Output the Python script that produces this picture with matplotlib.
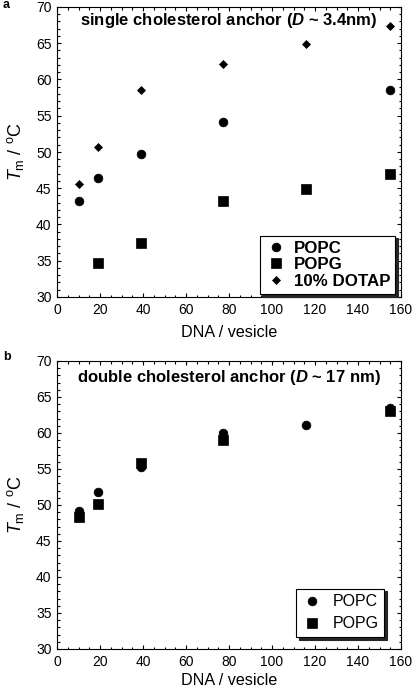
import matplotlib
matplotlib.use("Agg")
import matplotlib.pyplot as plt
from matplotlib.ticker import MultipleLocator

plt.rcParams['font.family'] = ['Liberation Sans', 'DejaVu Sans']
plt.rcParams['mathtext.fontset'] = 'custom'
plt.rcParams['mathtext.it'] = 'Liberation Sans:italic'
plt.rcParams['mathtext.rm'] = 'Liberation Sans'
plt.rcParams['mathtext.bf'] = 'Liberation Sans:bold'
plt.rcParams['mathtext.bfit'] = 'Liberation Sans:bold:italic'

# Panel a
a_popc_x = [10, 19, 39, 77, 155]
a_popc_y = [43.3, 46.4, 49.7, 54.1, 58.6]
a_popg_x = [19, 39, 77, 116, 155]
a_popg_y = [34.7, 37.4, 43.2, 44.9, 46.9]
a_dotap_x = [10, 19, 39, 77, 116, 155]
a_dotap_y = [45.6, 50.7, 58.5, 62.1, 64.9, 67.4]

# Panel b
b_popc_x = [10, 19, 39, 77, 116, 155]
b_popc_y = [49.2, 51.8, 55.3, 60.0, 61.1, 63.5]
b_popg_x = [10, 19, 39, 77, 155]
b_popg_y = [48.3, 50.1, 55.9, 59.0, 63.0]

fig = plt.figure(figsize=(4.14, 6.90), dpi=100)
W, H = 414, 690
ax_a = fig.add_axes([57/W, 1-297/H, (401-57)/W, (297-7)/H])
ax_b = fig.add_axes([57/W, 1-649/H, (401-57)/W, (649-361)/H])

def style(ax, lp):
    ax.set_xlim(0, 160)
    ax.set_ylim(30, 70)
    ax.xaxis.set_major_locator(MultipleLocator(20))
    ax.xaxis.set_minor_locator(MultipleLocator(5))
    ax.yaxis.set_major_locator(MultipleLocator(5))
    ax.yaxis.set_minor_locator(MultipleLocator(1))
    ax.tick_params(which='both', direction='in', top=True, right=True, labelsize=10, width=0.8)
    ax.tick_params(which='major', length=3.2, pad=4)
    ax.tick_params(which='minor', length=1.8)
    for s in ax.spines.values():
        s.set_linewidth(0.8)
    ax.set_xlabel('DNA / vesicle', fontsize=11.6, labelpad=lp)
    ax.set_ylabel(r'$T_{\rm m}$ / $^{\rm o}$C', fontsize=13)
    ax.yaxis.set_label_coords(-0.09, 0.5)

def mk(ax, x, y, m, ms, label):
    ax.plot(x, y, m, color='black', ms=ms, mew=0.5, label=label, ls='none')

mk(ax_a, a_popc_x, a_popc_y, 'o', 6.3, 'POPC')
mk(ax_a, a_popg_x, a_popg_y, 's', 7.0, 'POPG')
mk(ax_a, a_dotap_x, a_dotap_y, 'D', 4.3, '10% DOTAP')
style(ax_a, 6)
ax_a.text(0.5, 0.953, r'single cholesterol anchor ($\mathbfit{D}$ ~ 3.4nm)', transform=ax_a.transAxes,
          ha='center', va='center', fontsize=12, fontweight='bold')
leg = ax_a.legend(loc='lower right', bbox_to_anchor=(0.983, 0.01), borderaxespad=0,
                  frameon=True, fancybox=False, shadow={'color': '0.15', 'alpha': 1},
                  prop={'weight': 'bold', 'size': 12.2}, handletextpad=0.4, borderpad=0.3,
                  labelspacing=0.1, handlelength=1.3, framealpha=1)
leg.get_frame().set_edgecolor('black')
leg.get_frame().set_linewidth(0.8)

mk(ax_b, b_popc_x, b_popc_y, 'o', 6.3, 'POPC')
mk(ax_b, b_popg_x, b_popg_y, 's', 7.0, 'POPG')
style(ax_b, 3.5)
ax_b.text(0.5, 0.944, r'double cholesterol anchor ($\mathbfit{D}$ ~ 17 nm)', transform=ax_b.transAxes,
          ha='center', va='center', fontsize=12, fontweight='bold')
leg = ax_b.legend(loc='lower right', bbox_to_anchor=(0.951, 0.042), borderaxespad=0,
                  frameon=True, fancybox=False, shadow={'color': '0.15', 'alpha': 1},
                  prop={'size': 11.5}, handletextpad=0.6, borderpad=0.35,
                  labelspacing=0.45, handlelength=1.3, framealpha=1)
leg.get_frame().set_edgecolor('black')
leg.get_frame().set_linewidth(0.8)

fig.text(3/W, 1-5/H, 'a', fontsize=9, fontweight='bold', va='center', ha='left')
fig.text(3/W, 1-357/H, 'b', fontsize=9, fontweight='bold', va='center', ha='left')

fig.savefig('out.png', dpi=100)
